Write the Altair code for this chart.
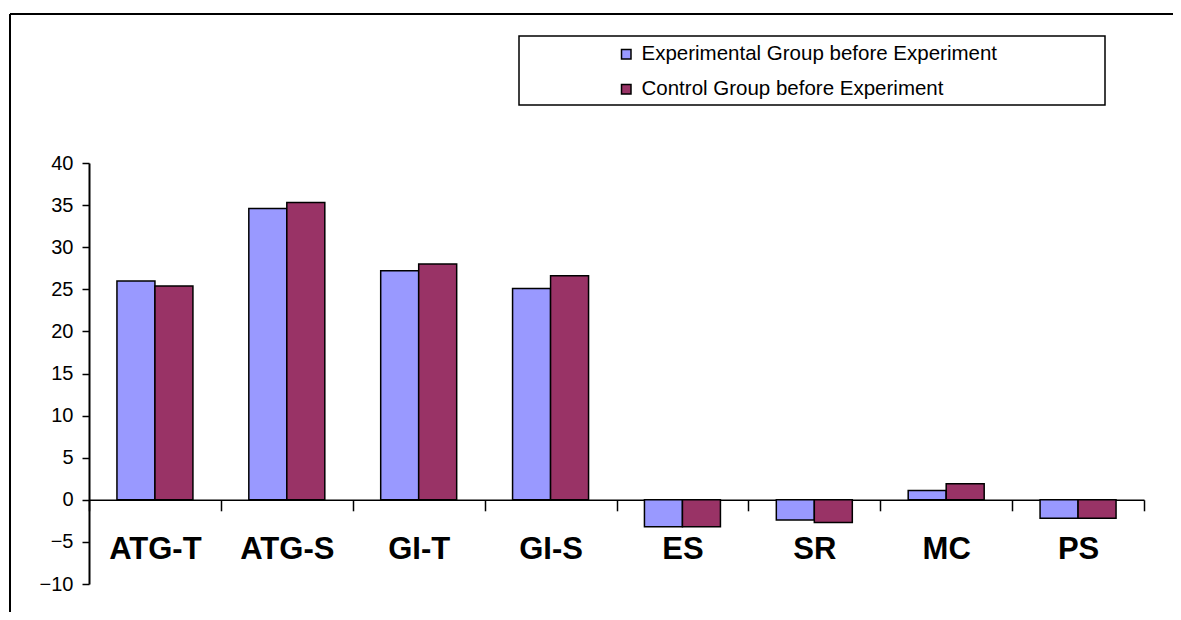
import altair as alt
import pandas as pd

categories = ["ATG-T", "ATG-S", "GI-T", "GI-S", "ES", "SR", "MC", "PS"]
groups = ["Experimental Group before Experiment", "Control Group before Experiment"]
experimental = [26.0, 34.6, 27.2, 25.1, -3.2, -2.4, 1.1, -2.2]
control = [25.4, 35.3, 28.0, 26.6, -3.2, -2.7, 1.9, -2.2]
colors = ["#9999FF", "#993366"]
y_ticks = [-10, -5, 0, 5, 10, 15, 20, 25, 30, 35, 40]

rows = []
for c, e, k in zip(categories, experimental, control):
    rows.append({"cat": c, "group": groups[0], "value": e})
    rows.append({"cat": c, "group": groups[1], "value": k})
df = pd.DataFrame(rows)

W, H = 1055, 421
FONT = "Liberation Sans"
YMIN, YMAX = -10, 40

bars = alt.Chart(df).mark_bar(stroke="black", strokeWidth=1.5).encode(
    x=alt.X(
        "cat:N", sort=categories,
        scale=alt.Scale(paddingInner=0, paddingOuter=0),
        axis=alt.Axis(
            title=None, labelAngle=0, labelFont=FONT, labelFontSize=31,
            labelFontWeight="bold", labelColor="black", labelPadding=24,
            tickSize=11, tickColor="black", tickWidth=1.5,
            domainColor="black", domainWidth=1.5, tickBand="extent",
            offset=-H * (0 - YMIN) / (YMAX - YMIN),
        ),
    ),
    xOffset=alt.XOffset("group:N", sort=groups,
                        scale=alt.Scale(paddingInner=0, paddingOuter=0.7355)),
    y=alt.Y(
        "value:Q",
        scale=alt.Scale(domain=[YMIN, YMAX], nice=False, zero=False),
        axis=alt.Axis(
            title=None, values=y_ticks, grid=False, labelFont=FONT,
            labelFontSize=20, labelColor="black", labelPadding=9,
            tickSize=7, tickColor="black", tickWidth=1.5,
            domainColor="black", domainWidth=2,
        ),
    ),
    color=alt.Color(
        "group:N", sort=groups,
        scale=alt.Scale(domain=groups, range=colors),
        legend=alt.Legend(
            title=None, orient="none", legendX=527, legendY=-119,
            symbolType="square", symbolSize=90, symbolStrokeColor="black",
            symbolStrokeWidth=1.5, labelFont=FONT, labelFontSize=20.5,
            labelColor="black", labelOffset=5, rowPadding=14, padding=0,
            labelLimit=600,
        ),
    ),
)

deco = alt.Data(values=[{"d": 1}])

legend_frame = alt.Chart(deco).mark_rect(
    fill="white", fillOpacity=0, stroke="black", strokeWidth=1.5
).encode(
    x=alt.value(430), x2=alt.value(1016), y=alt.value(-127), y2=alt.value(-58)
)

border_top = alt.Chart(deco).mark_rule(color="black", strokeWidth=2).encode(
    x=alt.value(-79), x2=alt.value(1100), y=alt.value(-149)
)
border_left = alt.Chart(deco).mark_rule(color="black", strokeWidth=2).encode(
    x=alt.value(-79), y=alt.value(-149), y2=alt.value(460)
)

chart = alt.layer(border_top, border_left, legend_frame, bars).properties(
    width=W, height=H,
    padding={"left": 81, "top": 155, "right": 29, "bottom": 28},
    autosize="none",
    background="white",
).configure_view(stroke=None)

chart.save("out.html", embed_options={"renderer": "svg", "actions": False})
